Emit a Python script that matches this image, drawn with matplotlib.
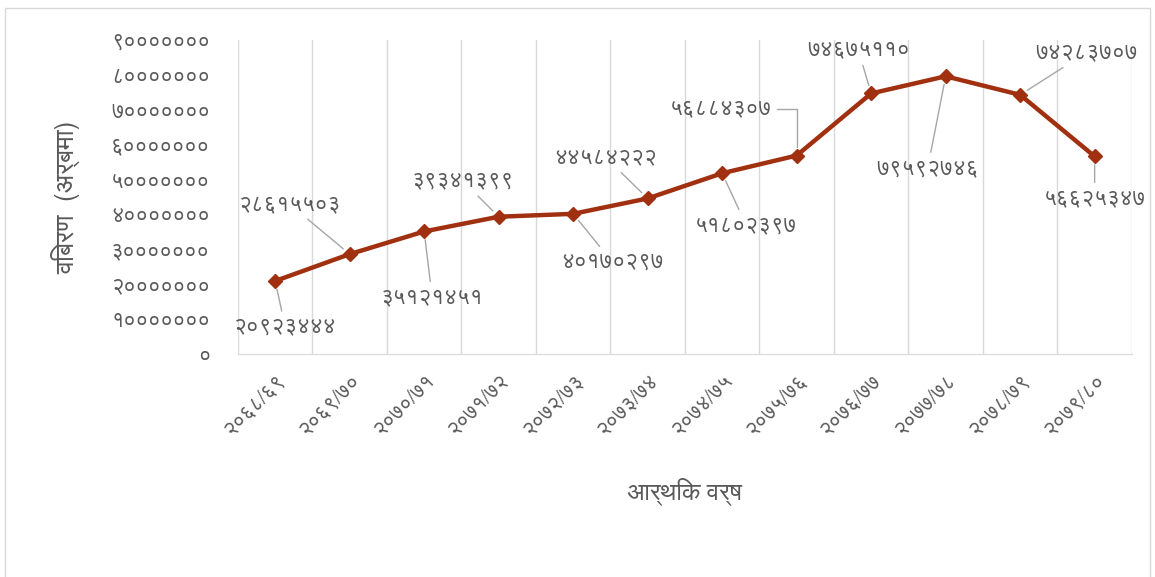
import matplotlib
matplotlib.use("Agg")
import matplotlib.pyplot as plt
from matplotlib import font_manager, ft2font
from matplotlib.patches import Rectangle
from matplotlib.ticker import FuncFormatter

# ===== データ =====
years = ["२०६८/६९", "२०६९/७०", "२०७०/७१", "२०७१/७२", "२०७२/७३", "२०७३/७४",
         "२०७४/७५", "२०७५/७६", "२०७६/७७", "२०७७/७८", "२०७८/७९", "२०७९/८०"]
values = [20923444, 28615503, 35121451, 39341399, 40170297, 44584222,
          51802397, 56884307, 74675110, 79592746, 74283707, 56625347]
y_ticks = [0, 10000000, 20000000, 30000000, 40000000, 50000000,
           60000000, 70000000, 80000000, 90000000]

DEV = str.maketrans("0123456789", "०१२३४५६७८९")

def dev(n):
    return str(int(n)).translate(DEV)

# Devanagari glyphs: pick an installed font that has them, prefer sans, avoid mono
cands = []
for f in font_manager.fontManager.ttflist:
    try:
        if 0x0966 in ft2font.FT2Font(f.fname).get_charmap():
            n = f.name.lower()
            rank = 0 if "sans" in n else 1
            if "mono" in n:
                rank = 3
            cands.append((rank, f.weight != 400, f.name))
    except Exception:
        pass
cands.sort()
families = ([cands[0][2]] if cands else []) + ["DejaVu Sans"]
plt.rcParams["font.family"] = families

# label offsets in pixels (dx, dy) from each point
offsets = [(10, -46), (-60, 50), (8, -66), (-36, 36), (39, -48), (-42, 41),
           (24, -52), (-76, 47), (-13, 44), (-18, -92), (66, 42), (0, -42)]

fig = plt.figure(figsize=(11.55, 5.77), dpi=100)
ax = fig.add_axes([0.206, 0.3865, 0.774, 0.5442])

x = range(len(years))
ax.plot(x, values, color="#A0300F", lw=3.2, marker="D", ms=7.5, zorder=3)

ax.set_xlim(-0.5, len(years) - 0.5)
ax.set_ylim(0, 90000000)
ax.set_yticks(y_ticks)
ax.yaxis.set_major_formatter(FuncFormatter(lambda v, _: dev(v)))
ax.set_xticks(list(x))
ax.set_xticklabels(years, rotation=45, ha="right", rotation_mode="anchor")
ax.set_xticks([i - 0.5 for i in range(len(years) + 1)], minor=True)
ax.grid(which="minor", axis="x", color="#D9D9D9", lw=1)
ax.tick_params(which="both", length=0)
ax.tick_params(axis="y", labelsize=15.5, labelcolor="#595959", pad=20)
ax.tick_params(axis="x", labelsize=15, labelcolor="#595959", pad=12)
for s in ["left", "right", "top"]:
    ax.spines[s].set_visible(False)
ax.spines["bottom"].set_color("#D9D9D9")

for i, (v, (dx, dy)) in enumerate(zip(values, offsets)):
    style = "angle,angleA=0,angleB=90,rad=0" if i == 7 else "arc3"
    ax.annotate(dev(v), (i, v), xytext=(dx, dy), textcoords="offset pixels",
                ha="center", va="center", fontsize=16, color="#595959",
                arrowprops=dict(arrowstyle="-", color="#A6A6A6", lw=1,
                                shrinkA=2, shrinkB=6, connectionstyle=style))

ax.set_ylabel("विबरण  (अर्बमा)", fontsize=19, color="#595959", labelpad=22)
ax.set_xlabel("आर्थिक वर्ष", fontsize=18, color="#595959", labelpad=28)

fig.patches.append(Rectangle((5 / 1155, -0.01), 1145 / 1155, 569 / 577 + 0.01,
                             transform=fig.transFigure, fill=False,
                             edgecolor="#D9D9D9", lw=1))

fig.savefig("out.png", dpi=100)
